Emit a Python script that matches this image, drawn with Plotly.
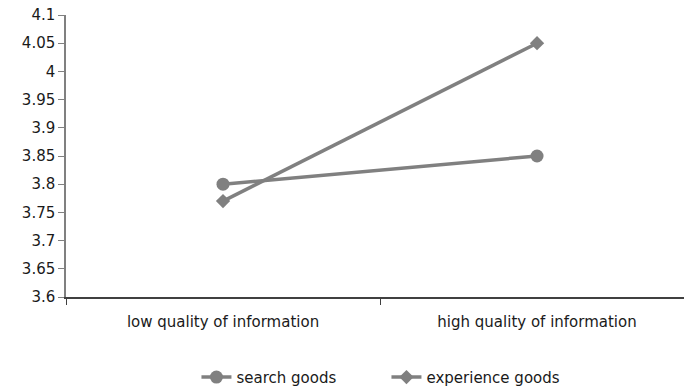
import plotly.graph_objects as go

categories = ["low quality of information", "high quality of information"]
search_goods = [3.80, 3.85]
experience_goods = [3.77, 4.05]
y_ticks = [3.6, 3.65, 3.7, 3.75, 3.8, 3.85, 3.9, 3.95, 4.0, 4.05, 4.1]
y_tick_labels = ["3.6", "3.65", "3.7", "3.75", "3.8", "3.85", "3.9", "3.95", "4", "4.05", "4.1"]

GRAY = "#808080"
FONT = "DejaVu Sans, Verdana, sans-serif"
TXT = "#1a1a1a"

fig = go.Figure()
fig.add_trace(go.Scatter(
    x=categories, y=search_goods, name="search goods", mode="lines+markers",
    line=dict(color=GRAY, width=3.5),
    marker=dict(symbol="circle", size=13, color=GRAY),
))
fig.add_trace(go.Scatter(
    x=categories, y=experience_goods, name="experience goods", mode="lines+markers",
    line=dict(color=GRAY, width=3.5),
    marker=dict(symbol="diamond", size=11, color=GRAY),
))

fig.update_layout(
    width=684, height=389,
    margin=dict(l=66, r=0, t=15, b=92, autoexpand=False),
    plot_bgcolor="white", paper_bgcolor="white",
    font=dict(family=FONT, size=15, color=TXT),
    showlegend=True,
    legend=dict(orientation="h", xref="container", yref="container",
                x=0.565, xanchor="center", y=0.03, yanchor="middle",
                entrywidth=145, entrywidthmode="pixels",
                font=dict(size=15, family=FONT, color=TXT), traceorder="normal"),
)
fig.update_xaxes(
    type="category", range=[-0.5, 1.468],
    showline=True, linecolor="#404040", linewidth=1.5,
    ticks="outside", tickson="boundaries", ticklen=6, tickcolor="#404040",
    ticklabelstandoff=10,
    showgrid=False, tickfont=dict(size=15, family=FONT, color=TXT), zeroline=False,
)
fig.update_yaxes(
    range=[3.6, 4.1], tickvals=y_ticks, ticktext=y_tick_labels,
    showline=True, linecolor=GRAY, linewidth=1.5,
    ticks="outside", ticklen=6, tickcolor=GRAY,
    showgrid=False, zeroline=False, tickfont=dict(size=15, family=FONT, color=TXT),
)

fig.write_html("out.html")
